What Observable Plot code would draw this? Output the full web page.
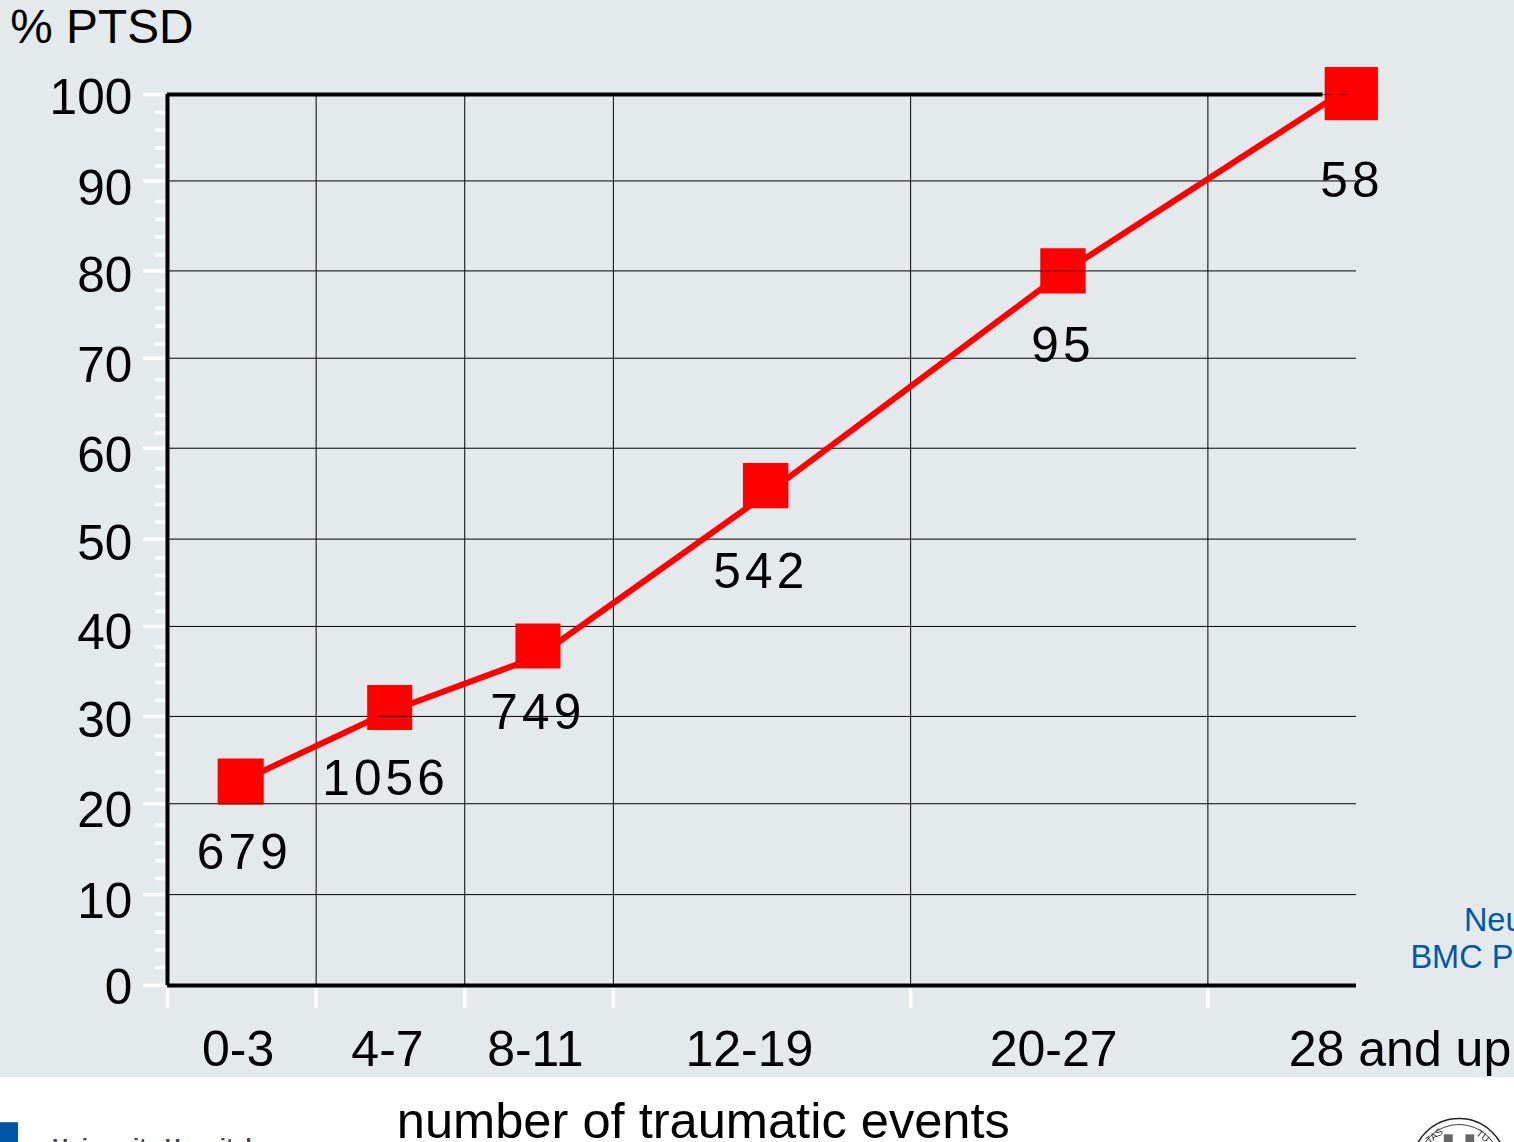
<!DOCTYPE html>
<html>
<head>
<meta charset="utf-8">
<script src="https://cdn.jsdelivr.net/npm/d3@7"></script>
<script src="https://cdn.jsdelivr.net/npm/@observablehq/plot@0.6"></script>
<style>
html,body{margin:0;padding:0;background:#fff;overflow:hidden}
svg{display:block}
.nlabel text{letter-spacing:4.2px}
</style>
</head>
<body>
<div id="chart"></div>
<script>
// Chart data
const eventMidpoints = [1.97, 5.98, 9.97, 16.1, 24.1, 31.86];
const markerPercent = [22.9, 31.2, 38.1, 56.1, 80.2, 100.1];
const linePercent   = [22.9, 30.75, 36.9, 55.1, 80, 100.9];
const sampleSizes   = ["679", "1056", "749", "542", "95", "58"];
const sampleLabelX  = [2.07, 5.87, 9.97, 15.97, 24.1, 31.88];
const sampleLabelY  = [14.9, 23.2, 30.6, 46.4, 71.8, 90.3];
const markerRadius  = [26, 25.4, 25.4, 25.6, 25.6, 30];

const binEdges      = [4, 8, 12, 20, 28];
const xTickEdges    = [0, 4, 8, 12, 20, 28];
const xLabels       = ["0-3", "4-7", "8-11", "12-19", "20-27", "28 and up"];
const xLabelCenters = [1.9, 5.92, 9.9, 15.66, 23.85, 33.17];

const gridValues    = [10.2, 20.4, 30.2, 40.3, 50.1, 60.3, 70.4, 80.2, 90.3];
const majorTicks    = [0, 10.2, 20.4, 30.2, 40.3, 50.1, 60.3, 70.4, 80.2, 90.3, 100];
const yLabels       = ["0", "10", "20", "30", "40", "50", "60", "70", "80", "90", "100"];
const yLabelCenters = [-0.35, 9.35, 19.55, 29.65, 39.55, 49.55, 59.4, 69.5, 79.6, 89.4, 99.6];
const minorTicks    = d3.range(2, 100, 2).filter(v => v % 10 !== 0);

const points = eventMidpoints.map((x, i) => ({
  x, y: markerPercent[i], line: linePercent[i], n: sampleSizes[i], lx: sampleLabelX[i], ly: sampleLabelY[i], r: markerRadius[i]
}));
const sans = "'Liberation Sans', Arial, sans-serif";
const black = "#000";
const blue = "#0059a8";

const chart = Plot.plot({
  width: 1514,
  height: 1142,
  marginTop: 94,
  marginLeft: 167,
  marginRight: 158,
  marginBottom: 157,
  style: {
    background: "linear-gradient(#e4e9ec 1077px, #ffffff 1077px)",
    fontFamily: sans,
    fontSize: "48px",
    color: black
  },
  x: {type: "linear", domain: [0, 32], axis: null},
  y: {type: "linear", domain: [0, 100], axis: null},
  r: {type: "identity"},
  marks: [
    // white tick marks outside the frame
    Plot.axisY(minorTicks, {anchor: "left", tickSize: 10, dx: -2, stroke: "#fff", strokeWidth: 3.5, text: null, label: null}),
    Plot.axisY(majorTicks, {anchor: "left", tickSize: 22, dx: -2, stroke: "#fff", strokeWidth: 3.5, text: null, label: null}),
    Plot.axisX(xTickEdges, {anchor: "bottom", tickSize: 20, dy: 3, stroke: "#fff", strokeWidth: 3.5, text: null, label: null}),
    // grid
    Plot.ruleY(gridValues, {x1: 0, x2: 32, stroke: "#000", strokeWidth: 1}),
    Plot.ruleX(binEdges, {y1: 0, y2: 100, stroke: "#000", strokeWidth: 1}),
    // series
    Plot.line(points, {x: "x", y: "line", stroke: "#ff0000", strokeWidth: 6, curve: "linear"}),
    Plot.dot(points, {x: "x", y: "y", r: "r", symbol: "square", fill: "#ff0000", stroke: "none"}),
    // gridlines that show through the markers
    Plot.ruleY([20.4], {x1: 1.4, x2: 2.6, stroke: "#000", strokeWidth: 1, strokeOpacity: 0.55}),
    Plot.ruleY([30.2], {x1: 5.7, x2: 6.6, stroke: "#000", strokeWidth: 1}),
    Plot.ruleY([80.2], {x1: 23.5, x2: 24.7, stroke: "#000", strokeWidth: 1, strokeOpacity: 0.6}),
    // heavy frame lines
    Plot.ruleY([0], {x1: 0, x2: 32, stroke: black, strokeWidth: 4}),
    Plot.ruleY([100], {x1: 0, x2: 31.1, stroke: black, strokeWidth: 4}),
    Plot.ruleY([100], {x1: 31.1, x2: 31.85, stroke: black, strokeWidth: 1, strokeDasharray: "8 8", strokeOpacity: 0.7}),
    Plot.ruleX([0], {y1: 0, y2: 100, stroke: black, strokeWidth: 4}),
    // sample sizes
    Plot.text(points, {x: "lx", y: "ly", text: "n", fontSize: 49.5, fill: black, className: "nlabel"}),
    // axis labels
    Plot.text(yLabels, {x: -0.95, y: (d, i) => yLabelCenters[i], text: d => d, textAnchor: "end", fontSize: 49.5, fill: black}),
    Plot.text(xLabels, {x: (d, i) => xLabelCenters[i], y: -7.2, text: d => d, fontSize: 50, fill: black}),
    Plot.text(["% PTSD"], {x: -4.23, y: 107.55, text: d => d, textAnchor: "start", fontSize: 47.8, fill: black}),
    Plot.text(["number of traumatic events"], {x: 14.42, y: -15.3, text: d => d, fontSize: 50.6, fill: black}),
    // citation, cut by the page edge
    Plot.text(["Neuner et al."], {x: 34.89, y: 7.3, text: d => d, textAnchor: "start", fontSize: 32.5, fill: blue}),
    Plot.text(["BMC Psychiatry"], {x: 33.45, y: 3.1, text: d => d, textAnchor: "start", fontSize: 32.5, fill: blue}),
    // footer: logo block, hospital name and seal, cut by the page edge
    Plot.rect([0], {x1: -4.5, x2: -4.01, y1: -17.9, y2: -15.4, fill: "#0056a6"}),
    Plot.text(["University Hospital"], {x: -3.1, y: -17.9, text: d => d, textAnchor: "start", fontSize: 22, fontWeight: "bold", fill: "#444", dy: 2}),
    Plot.dot([0], {x: 34.76, y: -20.2, r: 47, fill: "#fff", stroke: "#222", strokeWidth: 1.5}),
    Plot.dot([0], {x: 34.76, y: -20.2, r: 41, fill: "#fff", stroke: "#444", strokeWidth: 1}),
    Plot.dot([0, 1], {x: d => d ? 35.05 : 34.47, y: -17.2, r: 5, symbol: "square", fill: "#666"}),
    Plot.text(["TAS"], {x: 34.1, y: -16.9, text: d => d, rotate: -38, fontSize: 10, fill: "#333"}),
    Plot.text(["TU"], {x: 35.4, y: -16.9, text: d => d, rotate: 38, fontSize: 10, fill: "#333"})
  ]
});
document.getElementById("chart").append(chart);
</script>
</body>
</html>
